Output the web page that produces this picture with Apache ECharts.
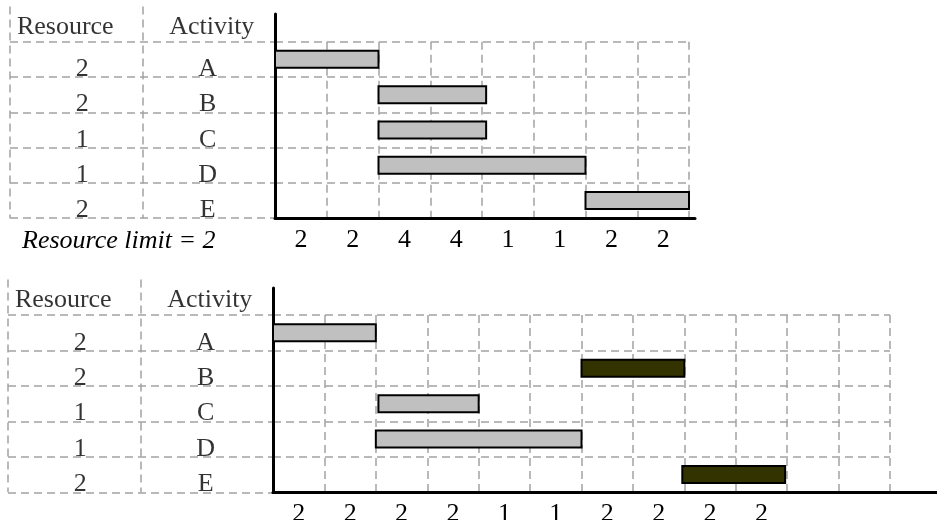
<!DOCTYPE html>
<html><head><meta charset="utf-8">
<script src="https://cdn.jsdelivr.net/npm/echarts@6/dist/echarts.min.js"></script>
<style>html,body{margin:0;padding:0;background:#fff}#c{width:937px;height:520px}</style>
</head><body><div id="c"></div><script>
// ---- data ----
const headers = ['Resource', 'Activity'];
const activities = ['A', 'B', 'C', 'D', 'E'];
const resources = ['2', '2', '1', '1', '2'];
const topStart = [0, 2, 2, 2, 6];
const topEnd = [2, 4.08, 4.08, 6, 8];
const topDelayed = [0, 0, 0, 0, 0];
const topUsage = ['2', '2', '4', '4', '1', '1', '2', '2'];
const botStart = [0, 6, 2.05, 2, 7.96];
const botEnd = [2, 8, 4, 6, 9.96];
const botDelayed = [0, 1, 0, 0, 1];
const botUsage = ['2', '2', '2', '2', '1', '1', '2', '2', '2', '2', '', ''];
const limitText = 'Resource limit = 2';

// ---- layout / style ----
const FONT = 'Liberation Serif';
const FS = 26;
const dash = { type: [8, 5], color: '#a3a3a3', width: 1.5 };
const panels = [
  { tableLeft: 10, axisX: 275, rowTop: 41.7, rowH: 35.3, colW: 51.75, frameTop: 14, frameRight: 695,
    start: topStart, end: topEnd, delayed: topDelayed, usage: topUsage },
  { tableLeft: 8, axisX: 273, rowTop: 315, rowH: 35.45, colW: 51.42, frameTop: 288, frameRight: 937,
    start: botStart, end: botEnd, delayed: botDelayed, usage: botUsage }
];

const grid = [], xAxis = [], yAxis = [], series = [];
const hidden = { axisLine: { show: false }, axisTick: { show: false }, axisLabel: { show: false } };

panels.forEach((p, k) => {
  const n = p.usage.length;
  const g0 = grid.length;
  const gbase = { outerBoundsMode: 'none', containLabel: false };
  grid.push(Object.assign({ left: p.tableLeft, top: p.rowTop - p.rowH, width: p.axisX - p.tableLeft, height: 6 * p.rowH }, gbase));
  grid.push(Object.assign({ left: p.axisX, top: p.rowTop, width: n * p.colW, height: 5 * p.rowH }, gbase));
  grid.push(Object.assign({ left: p.axisX, top: p.frameTop, width: p.frameRight - p.axisX, height: p.rowTop + 5 * p.rowH - p.frameTop }, gbase));

  const xt = xAxis.length;
  xAxis.push(Object.assign({ type: 'category', gridIndex: g0, data: headers, boundaryGap: true,
    splitLine: { show: true, interval: 0, showMaxLine: false, lineStyle: dash } }, hidden));
  const xv = xAxis.length;
  xAxis.push(Object.assign({ type: 'value', gridIndex: g0 + 1, min: 0, max: n, interval: 1,
    splitLine: { show: true, showMinLine: false, lineStyle: dash } }, hidden));
  xAxis.push({ type: 'category', gridIndex: g0 + 1, data: p.usage, boundaryGap: true, position: 'bottom',
    axisLine: { show: false }, axisTick: { show: false }, splitLine: { show: false },
    axisLabel: { interval: 0, margin: 9, color: '#000', fontFamily: FONT, fontSize: FS } });
  xAxis.push({ type: 'value', gridIndex: g0 + 2, min: 0, max: 1, axisTick: { show: false }, axisLabel: { show: false },
    splitLine: { show: false }, axisLine: { show: true, onZero: false, lineStyle: { color: '#000', width: 3 } } });

  const yt = yAxis.length;
  yAxis.push(Object.assign({ type: 'category', gridIndex: g0, inverse: true, data: [''].concat(activities),
    splitLine: { show: true, interval: 0, showMinLine: false, lineStyle: dash } }, hidden));
  const yc = yAxis.length;
  yAxis.push(Object.assign({ type: 'category', gridIndex: g0 + 1, inverse: true, data: activities,
    splitLine: { show: true, interval: 0, showMaxLine: false, lineStyle: dash } }, hidden));
  yAxis.push({ type: 'value', gridIndex: g0 + 2, min: 0, max: 1, axisTick: { show: false }, axisLabel: { show: false },
    splitLine: { show: false }, axisLine: { show: true, onZero: false, lineStyle: { color: '#000', width: 3 } } });

  const lbl = { show: true, position: 'inside', color: '#000', fontFamily: FONT, fontSize: FS, formatter: '{b}' };
  series.push({ type: 'scatter', xAxisIndex: xt, yAxisIndex: yt, symbolSize: 0, silent: true,
    label: lbl,
    data: headers.map((h, i) => ({ name: h, value: [i, 0], label: { offset: [i === 0 ? -11 : 3, 3] } })) });
  const cells = [];
  activities.forEach((a, i) => {
    cells.push({ name: resources[i], value: [0, i + 1], label: { offset: [6, 10] } });
    cells.push({ name: a, value: [1, i + 1], label: { offset: [-1, 10] } });
  });
  series.push({ type: 'scatter', xAxisIndex: xt, yAxisIndex: yt, symbolSize: 0, silent: true, label: lbl, data: cells });
  series.push({
    type: 'custom', xAxisIndex: xv, yAxisIndex: yc, silent: true,
    encode: { x: [0, 1], y: 2 },
    data: activities.map((a, i) => [p.start[i], p.end[i], i, p.delayed[i]]),
    renderItem: function (params, api) {
      const row = api.value(2);
      const s = api.coord([api.value(0), row]);
      const e = api.coord([api.value(1), row]);
      const h = 17;
      return { type: 'rect', shape: { x: s[0], y: s[1] - h / 2, width: e[0] - s[0], height: h },
        style: { fill: api.value(3) ? '#333300' : '#c0c0c0', stroke: '#000', lineWidth: 2 } };
    }
  });
});

const chart = echarts.init(document.getElementById('c'));
chart.setOption({
  animation: false,
  backgroundColor: '#fff',
  title: { text: limitText, left: 17, top: 223,
    textStyle: { fontFamily: FONT, fontSize: FS, fontStyle: 'italic', fontWeight: 'normal', color: '#000' } },
  grid, xAxis, yAxis, series
});
</script></body></html>
